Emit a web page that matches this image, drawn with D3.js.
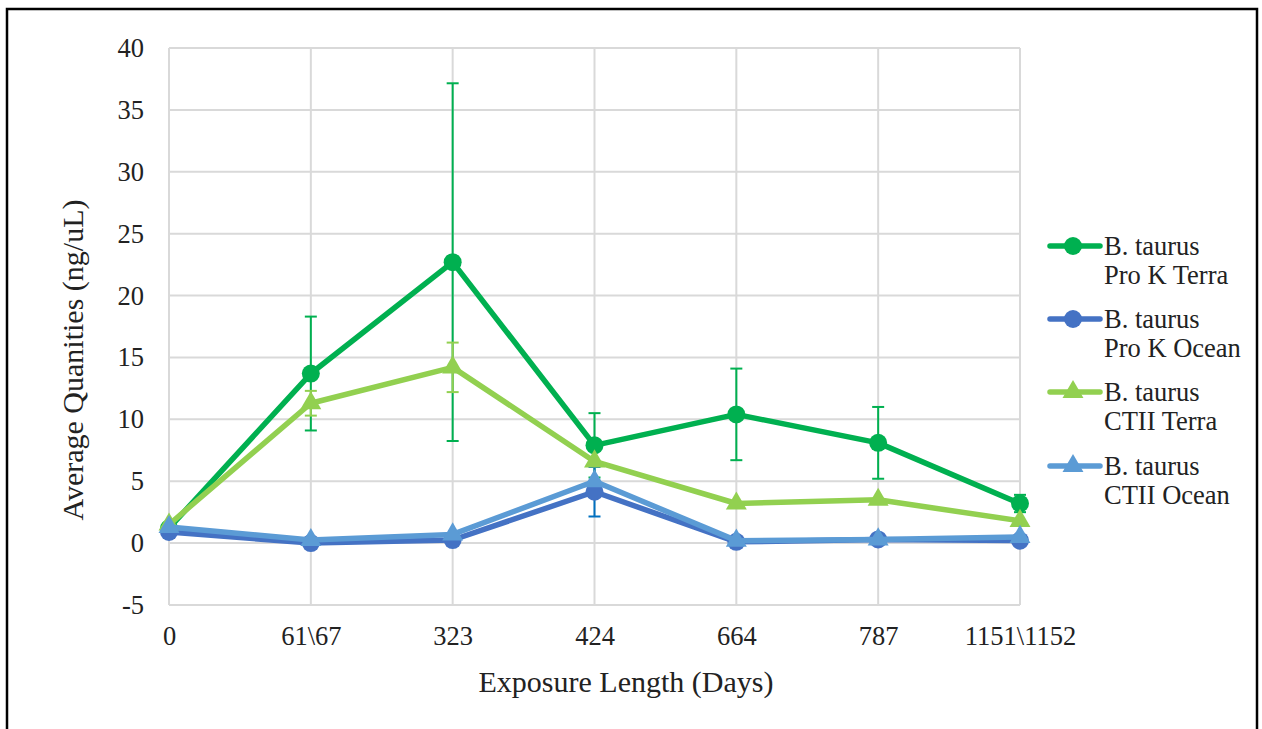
<!DOCTYPE html>
<html><head><meta charset="utf-8">
<script src="https://cdn.jsdelivr.net/npm/d3@7"></script>
<style>body{margin:0;background:#fff}svg{display:block}</style>
</head><body><svg id="c" width="1262" height="729"></svg>
<script>
const categories = ["0","61\\67","323","424","664","787","1151\\1152"];
const yTicks = [-5,0,5,10,15,20,25,30,35,40];
const seriesNames = [["B. taurus","Pro K Terra"],["B. taurus","Pro K Ocean"],["B. taurus","CTII Terra"],["B. taurus","CTII Ocean"]];
const proKTerra = [1.2, 13.7, 22.7, 7.9, 10.4, 8.1, 3.2];
const proKTerraErr = [0, 4.6, 14.45, 2.6, 3.7, 2.9, 0.7];
const proKOcean = [0.9, 0.0, 0.25, 4.15, 0.1, 0.3, 0.2];
const proKOceanErr = [0, 0, 0, 2.0, 0, 0, 0];
const ctiiTerra = [1.5, 11.3, 14.2, 6.6, 3.2, 3.5, 1.8];
const ctiiTerraErr = [0, 1.0, 2.0, 0, 0, 0, 0];
const ctiiOcean = [1.3, 0.25, 0.7, 5.0, 0.2, 0.3, 0.5];
const ctiiOceanErr = [0, 0, 0, 0, 0, 0, 0];

const FONT = "'Times New Roman', Times, 'Liberation Serif', 'DejaVu Serif', serif";
const colors = ["#00B050","#4472C4","#92D050","#5B9BD5"];
const errColors = ["#00B050","#0070C0","#92D050","#5B9BD5"];
const shapes = ["circle","circle","triangle","triangle"];
const values = [proKTerra, proKOcean, ctiiTerra, ctiiOcean];
const errs = [proKTerraErr, proKOceanErr, ctiiTerraErr, ctiiOceanErr];

const svg = d3.select("#c");
svg.append("rect").attr("x",7).attr("y",9).attr("width",1250).attr("height",740)
  .attr("fill","none").attr("stroke","#000").attr("stroke-width",2.5);

const x = d3.scalePoint().domain(categories).range([169,1020]);
const y = d3.scaleLinear().domain([-5,40]).range([605,48]);

const g = svg.append("g");
g.selectAll("line.h").data(yTicks).join("line")
  .attr("x1",169).attr("x2",1020).attr("y1",d=>y(d)).attr("y2",d=>y(d))
  .attr("stroke","#d9d9d9").attr("stroke-width",2);
g.selectAll("line.v").data(categories).join("line")
  .attr("x1",d=>x(d)).attr("x2",d=>x(d)).attr("y1",y(40)).attr("y2",y(-5))
  .attr("stroke","#d9d9d9").attr("stroke-width",2);

const yAxis = svg.append("g").attr("transform","translate(169,0)")
  .call(d3.axisLeft(y).tickValues(yTicks).tickSize(0).tickPadding(25).tickFormat(d=>String(d)));
yAxis.select(".domain").remove();
yAxis.selectAll("text").attr("fill","#222").style("font-family",FONT).attr("font-size",26.5);

const xAxis = svg.append("g").attr("transform","translate(0,605)")
  .call(d3.axisBottom(x).tickSize(0).tickPadding(21));
xAxis.select(".domain").remove();
xAxis.selectAll("text").attr("fill","#222").style("font-family",FONT).attr("font-size",26.5);

svg.append("text").attr("x",626).attr("y",692).attr("text-anchor","middle")
  .style("font-family",FONT).attr("font-size",30).attr("fill","#222").text("Exposure Length (Days)");
svg.append("text").attr("transform","translate(83,360) rotate(-90)").attr("text-anchor","middle")
  .style("font-family",FONT).attr("font-size",30).attr("fill","#222").text("Average Quanities (ng/uL)");

const line = d3.line().x((d,i)=>x(categories[i])).y(d=>y(d));
function marker(sel, shape, color){
  if(shape==="circle"){
    sel.append("circle").attr("r",9).attr("fill",color);
  } else {
    sel.append("path").attr("d", d3.symbol().type(d3.symbolTriangle).size(190)()).attr("fill",color);
  }
}

values.forEach((vals,si)=>{
  const sg = svg.append("g");
  vals.forEach((v,i)=>{
    const e = errs[si][i];
    if(e>0){
      const cx = x(categories[i]);
      sg.append("line").attr("x1",cx).attr("x2",cx).attr("y1",y(v+e)).attr("y2",y(v-e))
        .attr("stroke",errColors[si]).attr("stroke-width",2);
      [v+e, v-e].forEach(t=>{
        sg.append("line").attr("x1",cx-6).attr("x2",cx+6).attr("y1",y(t)).attr("y2",y(t))
          .attr("stroke",errColors[si]).attr("stroke-width",2);
      });
    }
  });
  sg.append("path").attr("d",line(vals)).attr("fill","none").attr("stroke",colors[si])
    .attr("stroke-width",5.5).attr("stroke-linejoin","round");
  vals.forEach((v,i)=>{
    const m = sg.append("g").attr("transform",`translate(${x(categories[i])},${y(v)})`);
    marker(m, shapes[si], colors[si]);
  });
});

const legY = [246,319,392,466];
seriesNames.forEach((nm,si)=>{
  const lg = svg.append("g").attr("transform",`translate(0,${legY[si]})`);
  lg.append("line").attr("x1",1050).attr("x2",1100).attr("y1",0).attr("y2",0)
    .attr("stroke",colors[si]).attr("stroke-width",5.5).attr("stroke-linecap","round");
  const m = lg.append("g").attr("transform","translate(1073,0)");
  marker(m, shapes[si], colors[si]);
  lg.append("text").attr("x",1104).attr("y",9).attr("fill","#222").style("font-family",FONT).attr("font-size",26.5).text(nm[0]);
  lg.append("text").attr("x",1104).attr("y",38).attr("fill","#222").style("font-family",FONT).attr("font-size",26.5).text(nm[1]);
});
</script></body></html>
